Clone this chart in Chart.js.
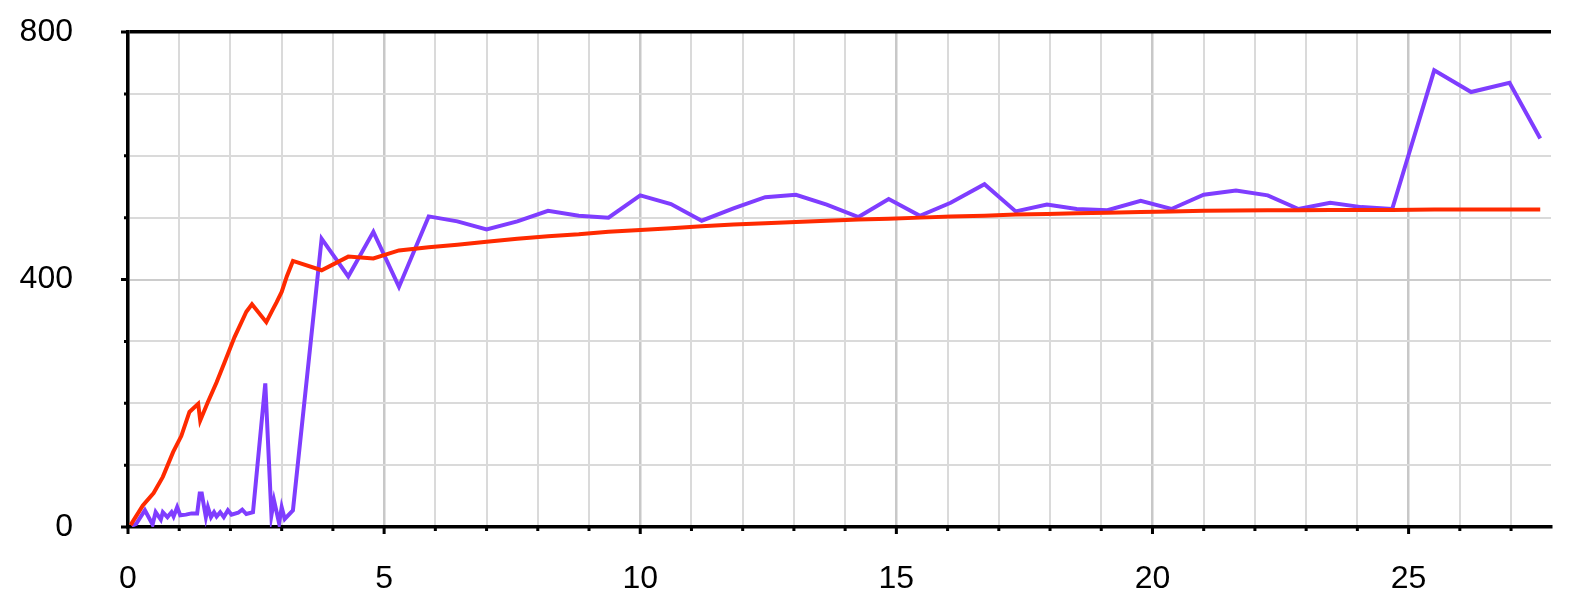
<!DOCTYPE html>
<html>
<head>
<meta charset="utf-8">
<script src="https://cdn.jsdelivr.net/npm/chart.js@4/dist/chart.umd.min.js"></script>
<style>
  html, body { margin: 0; padding: 0; background: #fff; }
  #wrap { width: 1572px; height: 608px; }
</style>
</head>
<body>
<div id="wrap"><canvas id="c" width="1572" height="608"></canvas></div>
<script>
// ---- data ----
const purpleX = [0.07,0.16,0.33,0.48,0.54,0.64,0.68,0.77,0.85,0.89,0.96,1.02,1.13,1.24,1.35,1.40,1.44,1.52,1.56,1.62,1.68,1.73,1.80,1.87,1.95,2.02,2.15,2.23,2.31,2.44,2.68,2.80,2.85,2.95,3.00,3.06,3.22,3.78,4.30,4.79,5.29,5.87,6.43,7.00,7.60,8.20,8.80,9.38,10.00,10.60,11.20,11.82,12.44,13.04,13.64,14.26,14.85,15.46,16.06,16.72,17.33,17.94,18.52,19.12,19.77,20.37,21.00,21.63,22.25,22.85,23.47,24.08,24.68,25.50,26.22,26.97,27.57];
const purpleY = [2,5,27,4,24,12,24,16,24,17,32,19,20,22,22,54,54,16,32,16,24,17,24,16,27,20,23,28,21,24,232,19,43,6,32,13,27,466,405,477,388,502,494,481,494,511,503,500,536,522,495,515,533,537,521,501,530,503,524,554,510,521,514,512,527,514,537,544,536,514,524,517,514,738,703,718,628];

const redX = [0.05,0.29,0.50,0.68,0.88,1.04,1.20,1.37,1.41,1.56,1.73,1.89,2.08,2.31,2.42,2.70,2.83,2.90,3.00,3.10,3.22,3.78,4.30,4.79,5.29,5.87,6.43,7.00,7.60,8.20,8.80,9.38,10.00,10.60,11.20,11.82,12.44,13.04,13.64,14.26,14.85,15.46,16.06,16.72,17.33,17.94,18.52,19.12,19.77,20.37,21.00,21.63,22.25,22.85,23.47,24.08,24.68,25.50,26.22,26.97,27.57];
const redY = [3,35,55,81,121,147,186,199,172,202,234,267,307,348,360,331,352,363,380,405,430,415,437,434,447,452,456,461,466,470,473,477,480,483,486,489,491,493,495,497,498,500,502,503,505,506,507,508,509,510,511,511.5,512,512,512.5,512.5,512.5,513,513,513,513];

const xTickStep = 1, xMax = 27.78;
const yTickStep = 100, yMax = 800;
const xLabelEvery = 5, yLabelEvery = 400;

const toPts = (xs, ys) => xs.map((x, i) => ({x, y: ys[i]}));
const FONT = "'Liberation Sans', Arial, Helvetica, sans-serif";

const tickMarks = {
  id: 'tickMarks',
  afterDraw(chart) {
    const ctx = chart.ctx, xs = chart.scales.x, ys = chart.scales.y;
    ctx.save();
    ctx.strokeStyle = '#000';
    ctx.lineWidth = 3;
    ctx.beginPath();
    ys.ticks.forEach(t => {
      const p = ys.getPixelForValue(t.value);
      const len = (t.value % yLabelEvery === 0) ? 7 : 4;
      ctx.moveTo(xs.left, p); ctx.lineTo(xs.left - len, p);
    });
    xs.ticks.forEach(t => {
      const p = xs.getPixelForValue(t.value);
      const len = (t.value % xLabelEvery === 0) ? 7 : 4;
      ctx.moveTo(p, ys.bottom); ctx.lineTo(p, ys.bottom + len);
    });
    ctx.stroke();
    ctx.restore();
  }
};

new Chart(document.getElementById('c'), {
  type: 'line',
  data: {
    datasets: [
      { data: toPts(redX, redY), borderColor: '#ff2a00', borderWidth: 4, pointRadius: 0, tension: 0, fill: false },
      { data: toPts(purpleX, purpleY), borderColor: '#7f3dff', borderWidth: 4, pointRadius: 0, tension: 0, fill: false }
    ]
  },
  options: {
    responsive: false,
    devicePixelRatio: 1,
    animation: false,
    events: [],
    layout: { padding: { left: 0, top: 32, right: 21, bottom: 0 } },
    plugins: { legend: { display: false }, tooltip: { enabled: false } },
    scales: {
      x: {
        type: 'linear', min: 0, max: xMax,
        afterFit(s) { s.height = 81; s.paddingLeft = 0; s.paddingRight = 0; s.paddingTop = 0; s.paddingBottom = 0; },
        ticks: {
          stepSize: xTickStep, includeBounds: false, autoSkip: false, maxRotation: 0,
          color: '#000', font: { family: FONT, size: 32 }, padding: 33,
          callback: v => (v % xLabelEvery === 0 ? String(v) : '')
        },
        grid: {
          drawTicks: false,
          color: c => (c.tick && c.tick.value % xLabelEvery === 0) ? '#c8c8c8' : '#dadada',
          lineWidth: c => (c.tick && c.tick.value % xLabelEvery === 0) ? 2.5 : 2
        },
        border: { color: '#000', width: 3.5 }
      },
      y: {
        type: 'linear', min: 0, max: yMax,
        afterFit(s) { s.width = 128; s.paddingTop = 0; s.paddingBottom = 0; s.paddingLeft = 0; s.paddingRight = 0; },
        ticks: {
          stepSize: yTickStep, includeBounds: false, autoSkip: false,
          color: '#000', font: { family: FONT, size: 32 }, padding: 55,
          callback: v => (v % yLabelEvery === 0 ? String(v) : '')
        },
        grid: {
          drawTicks: false,
          color: c => (c.tick && c.tick.value === yMax) ? '#000' : ((c.tick && c.tick.value % yLabelEvery === 0) ? '#cccccc' : '#dadada'),
          lineWidth: c => (c.tick && c.tick.value === yMax) ? 3.5 : 2
        },
        border: { color: '#000', width: 3.5 }
      }
    }
  },
  plugins: [tickMarks]
});
</script>
</body>
</html>
